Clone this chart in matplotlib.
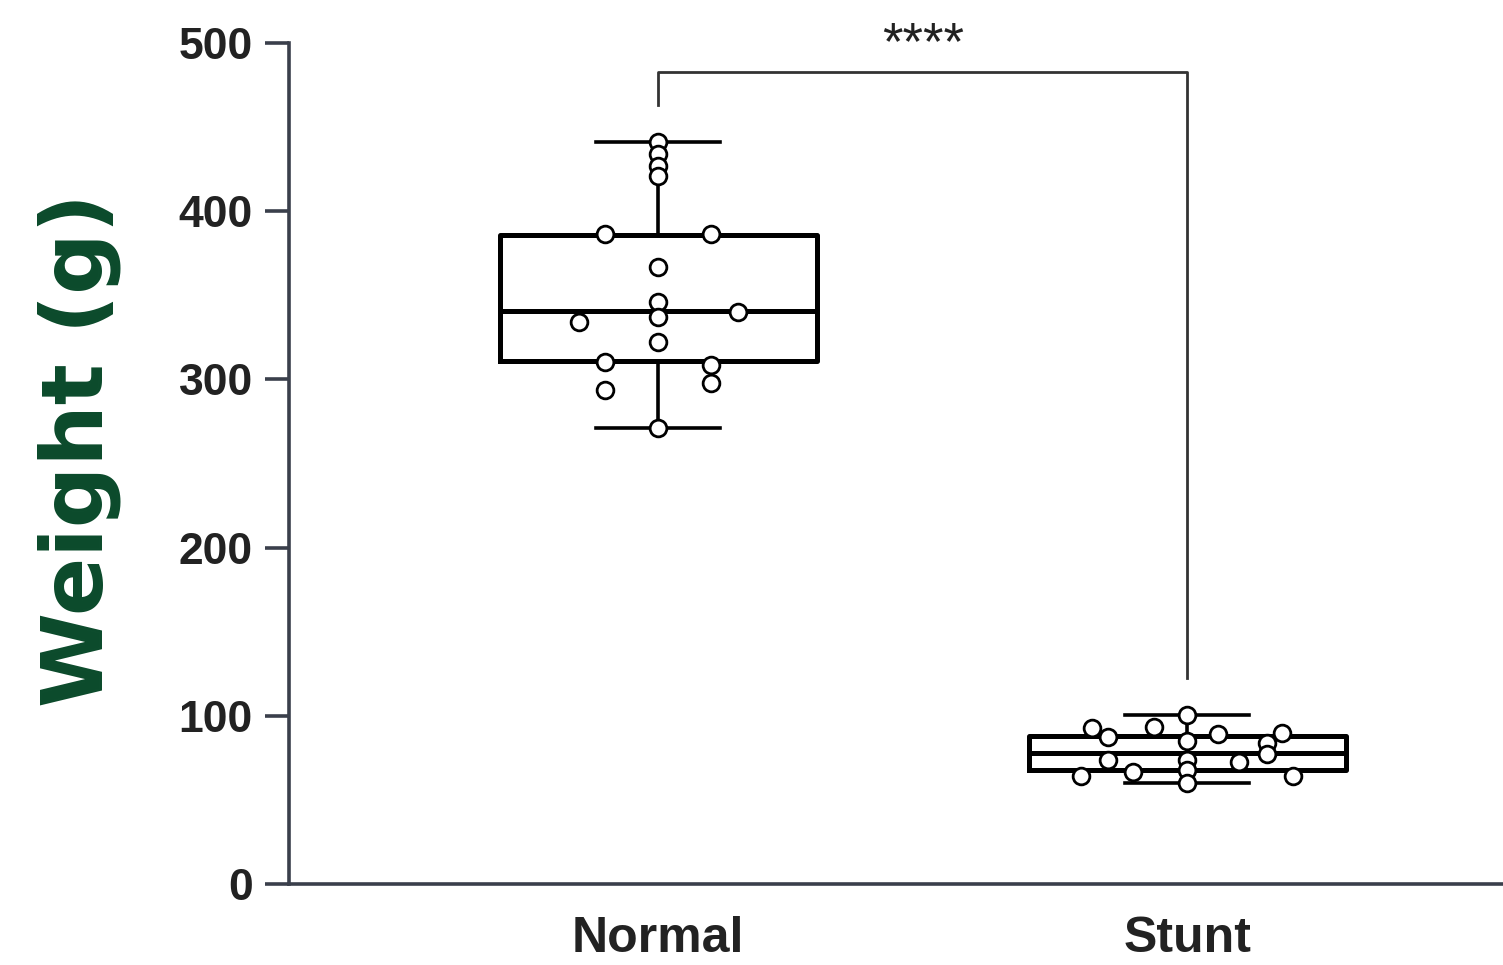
import numpy as np
import matplotlib.pyplot as plt

groups = ['Normal', 'Stunt']

# box statistics
q1 = [311, 68]
med = [340.7, 78]
q3 = [385.8, 88]
whislo = [271, 60]
whishi = [441, 100.5]

# individual points: (x offset from group centre, weight)
normal_dx = [0, 0, 0, 0, -0.1, 0.1, 0, 0, 0.15, -0.15, 0, 0, -0.1, 0.1, -0.1, 0.1, 0]
normal_y = [441, 434, 427, 421, 386.5, 386.5, 367, 346, 340.3, 334, 337, 322.4, 310.5, 308.5, 293.7, 297.9, 271]
stunt_dx = [0, -0.18, -0.15, -0.062, 0, 0.059, 0.18, 0.151, 0.151, -0.15, 0, 0.098, 0, -0.102, -0.2, 0.2, 0]
stunt_y = [100.5, 92.7, 87.6, 93.5, 85.2, 89.2, 90, 84, 77.6, 73.7, 73.7, 72.7, 67.8, 66.8, 64.2, 64.2, 59.8]

yticks = [0, 100, 200, 300, 400, 500]

spine_col = '#3a3f4b'
text_col = '#222222'

fig = plt.figure(figsize=(15.03, 9.65), dpi=100)
ax = fig.add_axes([0.1923, 0.0839, 0.8077, 0.8715])

stats = []
for i in range(2):
    stats.append(dict(label=groups[i], q1=q1[i], med=med[i], q3=q3[i],
                      whislo=whislo[i], whishi=whishi[i], fliers=[]))

lw = 3.6
ax.bxp(stats, positions=[0, 1], widths=0.6, showfliers=False,
       boxprops=dict(color='black', linewidth=lw, solid_joinstyle='round'),
       medianprops=dict(color='black', linewidth=lw),
       whiskerprops=dict(color='black', linewidth=2.6),
       capprops=dict(color='black', linewidth=2.6),
       capwidths=0.235)

mk = dict(marker='o', s=145, facecolor='white', edgecolor='black', linewidths=2.0, zorder=5)
ax.scatter(0 + np.array(normal_dx), normal_y, **mk)
ax.scatter(1 + np.array(stunt_dx), stunt_y, **mk)

# significance bracket
bx = [0, 0, 1, 1]
by = [463, 483, 483, 122.5]
ax.plot(bx, by, color='#333333', linewidth=2.0, clip_on=False)
ax.text(0.5, 499, '****', ha='center', va='center', fontsize=38,
        color=text_col, family='Liberation Sans', clip_on=False)

ax.set_xlim(-0.698, 1.597)
ax.set_ylim(0, 500)
ax.set_yticks(yticks)
ax.set_xticks([0, 1])
ax.set_xticklabels(groups)

for s in ['top', 'right']:
    ax.spines[s].set_visible(False)
for s in ['left', 'bottom']:
    ax.spines[s].set_color(spine_col)
    ax.spines[s].set_linewidth(2.6)

ax.tick_params(axis='y', length=17, width=2.6, color=spine_col, pad=9)
ax.tick_params(axis='x', length=0, pad=23)
for lab in ax.get_yticklabels():
    lab.set_fontsize(32)
    lab.set_fontweight('bold')
    lab.set_family('Liberation Sans')
    lab.set_color(text_col)
for lab in ax.get_xticklabels():
    lab.set_fontsize(36)
    lab.set_fontweight('bold')
    lab.set_family('Liberation Sans')
    lab.set_color(text_col)

fig.text(0.053, 0.534, 'Weight (g)', rotation=90, ha='center', va='center',
         fontsize=62, fontweight='bold', color='#0b4a2b')

fig.savefig('out.png', dpi=100)
